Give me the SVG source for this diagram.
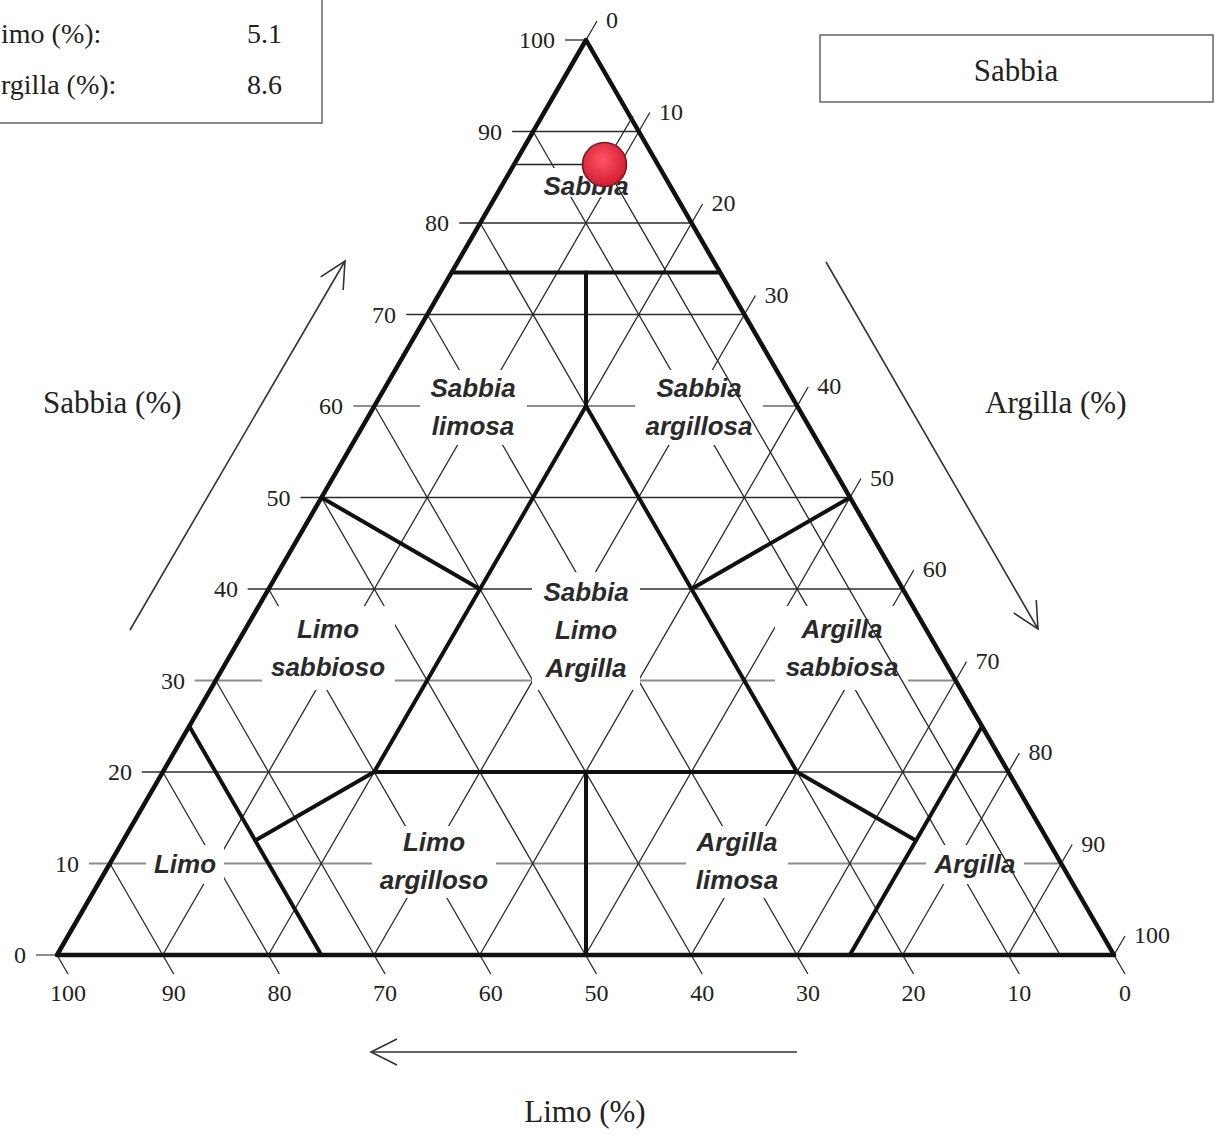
<svg xmlns="http://www.w3.org/2000/svg" width="1215" height="1135" viewBox="0 0 1215 1135">
<defs>
<style>
.g{stroke:#2b2b2b;stroke-width:1.3;fill:none}
.gl{stroke:#8c8c8c;stroke-width:2;fill:none}
.thick{stroke:#111;stroke-width:4;fill:none;stroke-linejoin:round;stroke-linecap:round}
.ind{stroke:#222;stroke-width:1.3;fill:none}
.mask{fill:#fff;stroke:none}
.num{font-family:"Liberation Serif","Times New Roman",serif;font-size:24px;fill:#222}
.lab{font-family:"Liberation Serif","Times New Roman",serif;font-size:31px;fill:#222}
.box{font-family:"Liberation Serif","Times New Roman",serif;font-size:28px;fill:#222}
.reg{font-family:"Liberation Sans",Arial,sans-serif;font-weight:bold;font-style:italic;font-size:26px;fill:#2a2a2a;text-anchor:middle}
.arr{stroke:#333;stroke-width:1.6;fill:none}
</style>
<marker id="ah" markerUnits="userSpaceOnUse" markerWidth="32" markerHeight="32" viewBox="0 0 32 32" refX="30" refY="16" orient="auto">
<path d="M4,3 L30,16 L4,29" fill="none" stroke="#333" stroke-width="1.6"/>
</marker>
<radialGradient id="rg" cx="45%" cy="40%" r="60%">
<stop offset="0" stop-color="#ff5566"/>
<stop offset="1" stop-color="#d01c30"/>
</radialGradient>
</defs>
<rect width="1215" height="1135" fill="#fff"/>

<g id="info-box">
<rect x="-3" y="-3" width="325" height="126" fill="#fff" stroke="#666" stroke-width="1.5"/>
<text class="box" x="1" y="43">imo (%):</text>
<text class="box" x="247" y="43">5.1</text>
<text class="box" x="1" y="94">rgilla (%):</text>
<text class="box" x="247" y="94">8.6</text>
</g>

<g id="result-box">
<rect x="820" y="35" width="393" height="67" fill="#fff" stroke="#666" stroke-width="1.5"/>
<text class="box" x="1016" y="81" text-anchor="middle" style="font-size:31px">Sabbia</text>
</g>

<g id="grid">
<line class="gl" x1="88.9" y1="863.5" x2="1061.2" y2="863.5"/>
<line class="g" x1="141.8" y1="772" x2="1008.3" y2="772"/>
<line class="gl" x1="194.7" y1="680.5" x2="955.5" y2="680.5"/>
<line class="g" x1="247.6" y1="589" x2="902.6" y2="589"/>
<line class="g" x1="300.5" y1="497.5" x2="849.8" y2="497.5"/>
<line class="gl" x1="353.4" y1="406" x2="796.9" y2="406"/>
<line class="g" x1="406.3" y1="314.5" x2="744.1" y2="314.5"/>
<line class="g" x1="459.2" y1="223" x2="691.2" y2="223"/>
<line class="g" x1="512.1" y1="131.5" x2="638.4" y2="131.5"/>
<line class="gl" x1="36" y1="955" x2="57" y2="955"/>
<line class="g" x1="565" y1="40" x2="586" y2="40"/>
<line class="g" x1="162.7" y1="955" x2="649.8" y2="112.5"/>
<line class="g" x1="268.4" y1="955" x2="702.6" y2="204"/>
<line class="g" x1="374.1" y1="955" x2="755.4" y2="295.5"/>
<line class="g" x1="479.8" y1="955" x2="808.2" y2="387"/>
<line class="g" x1="585.5" y1="955" x2="861" y2="478.5"/>
<line class="g" x1="691.2" y1="955" x2="913.8" y2="570"/>
<line class="g" x1="796.9" y1="955" x2="966.6" y2="661.5"/>
<line class="g" x1="902.6" y1="955" x2="1019.4" y2="753"/>
<line class="g" x1="1008.3" y1="955" x2="1072.2" y2="844.5"/>
<line class="g" x1="586" y1="40" x2="597" y2="21"/>
<line class="g" x1="1114" y1="955" x2="1125" y2="936"/>
<line class="g" x1="533.1" y1="131.5" x2="1019.3" y2="974"/>
<line class="g" x1="480.2" y1="223" x2="913.6" y2="974"/>
<line class="g" x1="427.3" y1="314.5" x2="807.9" y2="974"/>
<line class="g" x1="374.4" y1="406" x2="702.2" y2="974"/>
<line class="g" x1="321.5" y1="497.5" x2="596.5" y2="974"/>
<line class="g" x1="268.6" y1="589" x2="490.8" y2="974"/>
<line class="g" x1="215.7" y1="680.5" x2="385.1" y2="974"/>
<line class="g" x1="162.8" y1="772" x2="279.4" y2="974"/>
<line class="g" x1="109.9" y1="863.5" x2="173.7" y2="974"/>
<line class="g" x1="57" y1="955" x2="68" y2="974"/>
<line class="g" x1="1114" y1="955" x2="1125" y2="974"/>
</g>

<g id="label-gaps">
<rect class="mask" x="536" y="168" width="100" height="29"/>
<rect class="mask" x="420" y="370" width="107" height="75"/>
<rect class="mask" x="635" y="370" width="128" height="75"/>
<rect class="mask" x="532" y="572" width="108" height="118"/>
<rect class="mask" x="262" y="606" width="133" height="84"/>
<rect class="mask" x="775" y="606" width="133" height="84"/>
<rect class="mask" x="146" y="845" width="78" height="39"/>
<rect class="mask" x="372" y="826" width="124" height="72"/>
<rect class="mask" x="686" y="826" width="102" height="72"/>
<rect class="mask" x="926" y="845" width="98" height="39"/>
</g>

<g id="boundaries">
<polygon class="thick" points="586,40 1114,955 57,955" style="stroke-width:4.5"/>
<line class="thick" x1="453.8" y1="272.5" x2="718.2" y2="272.5"/>
<line class="thick" x1="586" y1="272.5" x2="586" y2="406"/>
<polyline class="thick" points="374.1,772 586,406 797,772 374.1,772"/>
<line class="thick" x1="586" y1="772" x2="586" y2="955"/>
<line class="thick" x1="321.5" y1="497.5" x2="479.7" y2="589"/>
<line class="thick" x1="850" y1="497.5" x2="691.4" y2="589"/>
<line class="thick" x1="189.3" y1="726.3" x2="321.3" y2="955"/>
<line class="thick" x1="374.1" y1="772" x2="255.3" y2="840.6"/>
<line class="thick" x1="982" y1="726.3" x2="849.8" y2="955"/>
<line class="thick" x1="797" y1="772" x2="915.9" y2="840.6"/>
</g>

<g id="sample-lines">
<line class="ind" x1="513.5" y1="164.5" x2="604.5" y2="164.5"/>
<line class="ind" x1="604.5" y1="164.5" x2="633" y2="116"/>
<line class="ind" x1="604.5" y1="164.5" x2="1060.1" y2="955"/>
</g>

<g id="ticks">
<g class="num" text-anchor="end">
<text x="26" y="963">0</text>
<text x="79" y="871.5">10</text>
<text x="132" y="780">20</text>
<text x="185" y="688.5">30</text>
<text x="238" y="597">40</text>
<text x="290.5" y="505.5">50</text>
<text x="343" y="414">60</text>
<text x="396" y="322.5">70</text>
<text x="449" y="231">80</text>
<text x="502" y="139.5">90</text>
<text x="555" y="48">100</text>
</g>
<g class="num">
<text x="606" y="28">0</text>
<text x="659" y="119.5">10</text>
<text x="711.6" y="211">20</text>
<text x="764.4" y="302.5">30</text>
<text x="817.2" y="394">40</text>
<text x="870" y="485.5">50</text>
<text x="922.8" y="577">60</text>
<text x="975.6" y="668.5">70</text>
<text x="1028.4" y="760">80</text>
<text x="1081.2" y="851.5">90</text>
<text x="1134" y="943">100</text>
</g>
<g class="num" text-anchor="middle">
<text x="68" y="1001">100</text>
<text x="173.7" y="1001">90</text>
<text x="279.4" y="1001">80</text>
<text x="385.1" y="1001">70</text>
<text x="490.8" y="1001">60</text>
<text x="596.5" y="1001">50</text>
<text x="702.2" y="1001">40</text>
<text x="807.9" y="1001">30</text>
<text x="913.6" y="1001">20</text>
<text x="1019.3" y="1001">10</text>
<text x="1125" y="1001">0</text>
</g>
</g>

<g id="regions">
<text class="reg" x="586" y="195">Sabbia</text>
<text class="reg" x="473" y="397">Sabbia</text>
<text class="reg" x="473" y="435">limosa</text>
<text class="reg" x="699" y="397">Sabbia</text>
<text class="reg" x="699" y="435">argillosa</text>
<text class="reg" x="586" y="601">Sabbia</text>
<text class="reg" x="586" y="639">Limo</text>
<text class="reg" x="586" y="677">Argilla</text>
<text class="reg" x="328" y="638">Limo</text>
<text class="reg" x="328" y="676">sabbioso</text>
<text class="reg" x="842" y="638">Argilla</text>
<text class="reg" x="842" y="676">sabbiosa</text>
<text class="reg" x="185" y="873">Limo</text>
<text class="reg" x="434" y="851">Limo</text>
<text class="reg" x="434" y="889">argilloso</text>
<text class="reg" x="737" y="851">Argilla</text>
<text class="reg" x="737" y="889">limosa</text>
<text class="reg" x="975" y="873">Argilla</text>
</g>

<g id="sample-point">
<circle cx="604.5" cy="164.5" r="22" fill="url(#rg)" stroke="#7a1822" stroke-width="1.6"/>
</g>

<g id="axis-arrows">
<line class="arr" x1="130" y1="630" x2="345" y2="261" marker-end="url(#ah)"/>
<line class="arr" x1="826" y1="262" x2="1038" y2="629" marker-end="url(#ah)"/>
<line class="arr" x1="797" y1="1052" x2="371" y2="1052" marker-end="url(#ah)"/>
<text class="lab" x="43" y="413">Sabbia (%)</text>
<text class="lab" x="985" y="413">Argilla (%)</text>
<text class="lab" x="585" y="1122" text-anchor="middle">Limo (%)</text>
</g>
</svg>
